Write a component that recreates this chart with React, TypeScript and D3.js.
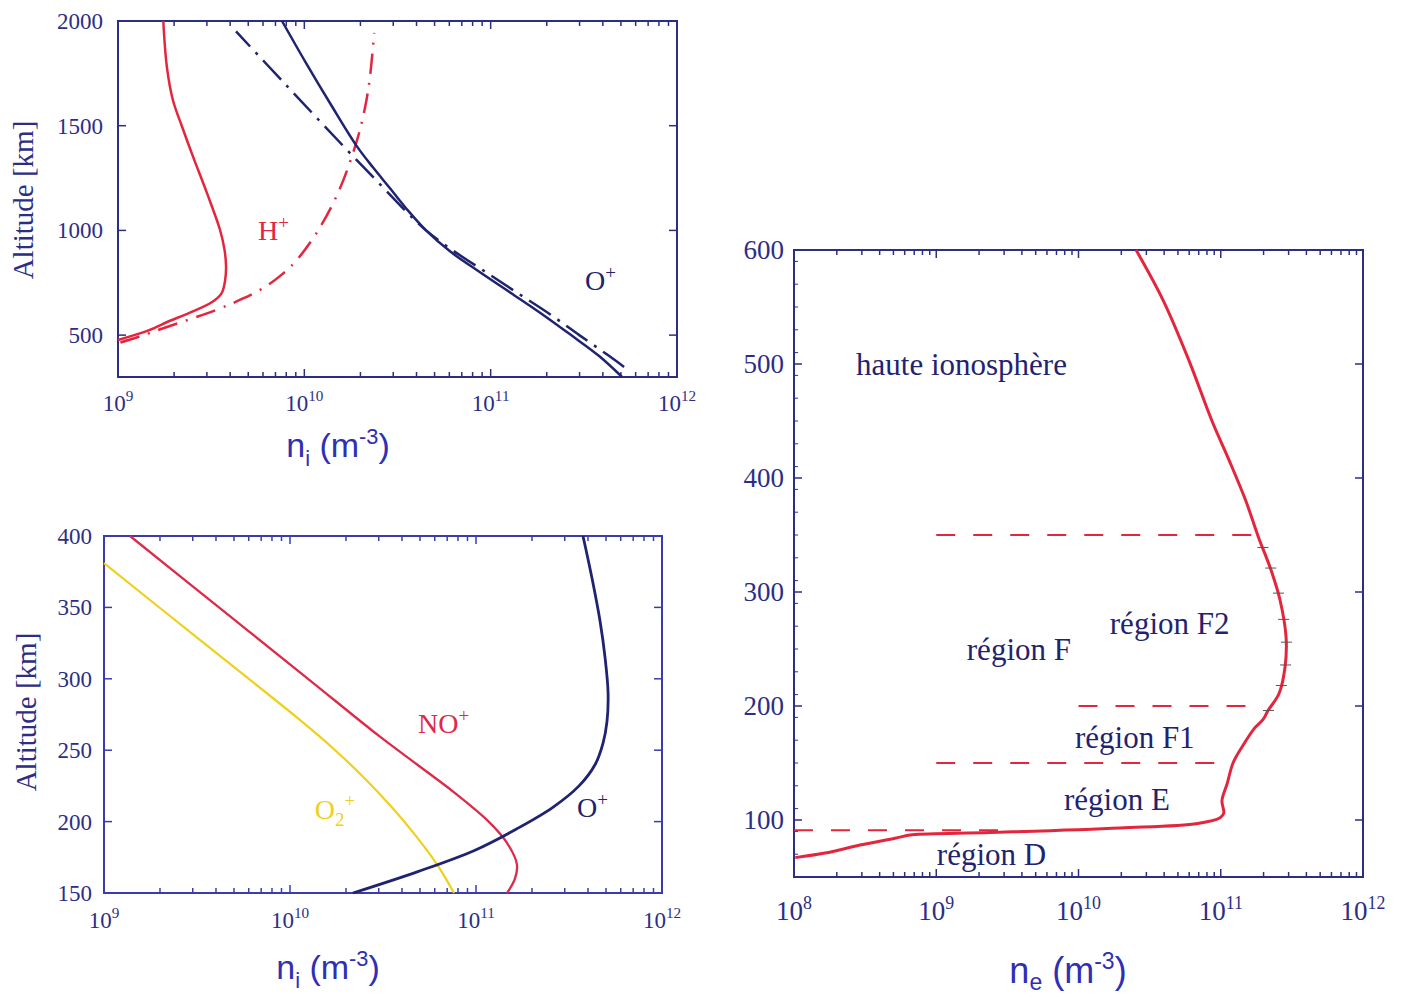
import React from "react";
import * as d3 from "d3";

// ---------------- colours ----------------
const AXIS = "#2c2e86";
const NAVY = "#1f2370";
const RED = "#e3263d";
const YELLOW = "#efd01c";
const BLUE_LABEL = "#2f2fb4";
const SERIF = "'Liberation Serif', 'Times New Roman', serif";
const SANS = "'Liberation Sans', Arial, sans-serif";

// ---------------- Panel A : 300–2000 km ----------------
const aHsolidAlt = [477, 524, 565, 605, 658, 701, 763, 830, 907, 1002, 1179, 1351, 1494, 1623, 1780, 2000];
const aHsolidN = [1.0e9, 1.47e9, 1.86e9, 2.4e9, 3.2e9, 3.6e9, 3.76e9, 3.8e9, 3.73e9, 3.53e9, 3.0e9, 2.53e9, 2.21e9, 1.97e9, 1.83e9, 1.75e9];
const aHdashAlt = [465, 491, 539, 620, 675, 730, 790, 860, 1002, 1193, 1432, 1589, 1733, 1943];
const aHdashN = [1.03e9, 1.28e9, 1.83e9, 3.36e9, 4.69e9, 6.15e9, 7.59e9, 9.14e9, 1.19e10, 1.54e10, 1.92e10, 2.12e10, 2.25e10, 2.37e10];
const aOsolidAlt = [300, 400, 500, 600, 700, 800, 900, 1000, 1100, 1200, 1300, 1400, 1600, 1800, 2000];
const aOsolidN = [5.07e11, 3.82e11, 2.7e11, 1.89e11, 1.29e11, 8.77e10, 6.05e10, 4.5e10, 3.56e10, 2.89e10, 2.34e10, 1.92e10, 1.39e10, 1.02e10, 7.59e9];
const aOdashAlt = [348, 400, 500, 600, 700, 800, 900, 1000, 1100, 1200, 1400, 1700, 1950];
const aOdashN = [5.2e11, 4.33e11, 2.99e11, 2.08e11, 1.4e11, 9.45e10, 6.37e10, 4.5e10, 3.43e10, 2.68e10, 1.63e10, 7.87e9, 4.3e9];
const aYTicks = [500, 1000, 1500, 2000];
const aLabelText = ["H", "O"];
const aLabelN = [5.64e9, 3.21e11];
const aLabelAlt = [954, 715];
const aLabelColor = [RED, NAVY];

// ---------------- Panel B : 150–400 km ----------------
const bNOAlt = [150, 160, 170, 185, 200, 220, 240, 260, 300, 350, 400];
const bNON = [1.47e11, 1.62e11, 1.66e11, 1.47e11, 1.17e11, 7.71e10, 4.82e10, 3.01e10, 1.25e10, 4.15e9, 1.38e9];
const bO2Alt = [150, 170, 190, 210, 230, 250, 270, 330, 381];
const bO2N = [7.62e10, 6.17e10, 4.75e10, 3.53e10, 2.53e10, 1.75e10, 1.16e10, 3.08e9, 1.0e9];
const bOAlt = [150, 165, 180, 195, 210, 225, 240, 255, 270, 290, 315, 340, 370, 400];
const bON = [2.18e10, 4.87e10, 9.88e10, 1.66e11, 2.59e11, 3.58e11, 4.37e11, 4.82e11, 5.06e11, 5.13e11, 4.94e11, 4.65e11, 4.21e11, 3.76e11];
const bYTicks = [150, 200, 250, 300, 350, 400];

// ---------------- Panel C : electron density 50–600 km ----------------
const cAlt = [67, 71, 78, 84, 87, 89, 93, 97, 102, 106, 117, 132, 150, 164, 181, 188, 196, 211, 234, 260, 293, 319, 349, 380, 415, 450, 503, 556, 600];
const cN = [1.02e8, 1.65e8, 2.91e8, 5.13e8, 6.76e8, 2.39e9, 1.96e10, 6.9e10, 9.9e10, 1.05e11, 1.02e11, 1.11e11, 1.22e11, 1.41e11, 1.74e11, 1.98e11, 2.15e11, 2.57e11, 2.83e11, 2.88e11, 2.61e11, 2.26e11, 1.83e11, 1.5e11, 1.15e11, 8.68e10, 5.98e10, 3.93e10, 2.54e10];
const cBarAlt = [196, 218, 236, 256, 276, 299, 321, 339];
const cBoundAlt = [350, 200, 150, 91];
const cBoundFrom = [1e9, 1e10, 1e9, 1e8];
const cBoundTo = [1.8e11, 1.75e11, 1.02e11, 2.8e9];
const cYTicks = [100, 200, 300, 400, 500, 600];
const cLabelText = ["haute ionosphère", "région F2", "région F", "région F1", "région E", "région D"];
const cLabelN = [2.73e8, 1.66e10, 1.64e9, 9.44e9, 7.9e9, 1.01e9];
const cLabelAlt = [490, 263, 240, 163, 109, 60.5];

type Frame = { left: number; right: number; top: number; bottom: number };

function isDecade(v: number) {
  const l = Math.log10(v);
  return Math.abs(l - Math.round(l)) < 1e-6;
}

function Panel(props: {
  frame: Frame;
  xDomain: [number, number];
  yDomain: [number, number];
  yTicks: number[];
  yMinorStep?: number;
  fs: number;
  xLabelOff: number;
  yLabelGap: number;
  frameColor: string;
  render: (x: d3.ScaleLogarithmic<number, number>, y: d3.ScaleLinear<number, number>) => React.ReactNode;
}) {
  const { frame, xDomain, yDomain, yTicks, fs } = props;
  const x = d3.scaleLog().domain(xDomain).range([frame.left, frame.right]);
  const y = d3.scaleLinear().domain(yDomain).range([frame.bottom, frame.top]);
  const xt = x.ticks();
  const minorY: number[] = [];
  if (props.yMinorStep) {
    for (let v = yDomain[0]; v <= yDomain[1]; v += props.yMinorStep) {
      if (!yTicks.includes(v)) minorY.push(v);
    }
  }
  const col = props.frameColor;
  return (
    <g>
      <rect x={frame.left} y={frame.top} width={frame.right - frame.left} height={frame.bottom - frame.top} fill="none" stroke={col} strokeWidth={2} />
      {xt.map((v, i) => {
        const len = isDecade(v) ? 8 : 5;
        return (
          <g key={"xt" + i}>
            <line x1={x(v)} x2={x(v)} y1={frame.bottom} y2={frame.bottom - len} stroke={col} strokeWidth={1.5} />
            <line x1={x(v)} x2={x(v)} y1={frame.top} y2={frame.top + len} stroke={col} strokeWidth={1.5} />
          </g>
        );
      })}
      {xt.filter(isDecade).map((v, i) => (
        <text key={"xl" + i} x={x(v)} y={frame.bottom + props.xLabelOff} textAnchor="middle" fontFamily={SERIF} fontSize={fs} fill={AXIS}>
          10<tspan fontSize={fs * 0.66} dy={-fs * 0.42}>{Math.round(Math.log10(v))}</tspan>
        </text>
      ))}
      {yTicks.map((v, i) => (
        <g key={"yt" + i}>
          <line x1={frame.left} x2={frame.left + 8} y1={y(v)} y2={y(v)} stroke={col} strokeWidth={1.5} />
          <line x1={frame.right} x2={frame.right - 8} y1={y(v)} y2={y(v)} stroke={col} strokeWidth={1.5} />
          <text x={frame.left - props.yLabelGap} y={y(v)} dy="0.35em" textAnchor="end" fontFamily={SERIF} fontSize={fs} fill={AXIS}>
            {v}
          </text>
        </g>
      ))}
      {minorY.map((v, i) => (
        <line key={"ym" + i} x1={frame.left} x2={frame.left + 4} y1={y(v)} y2={y(v)} stroke={col} strokeWidth={1} />
      ))}
      {props.render(x, y)}
    </g>
  );
}

function curve(x: d3.ScaleLogarithmic<number, number>, y: d3.ScaleLinear<number, number>, alts: number[], ns: number[]) {
  const pts: [number, number][] = alts.map((a, i) => [x(ns[i]), y(a)]);
  return d3.line().curve(d3.curveCatmullRom.alpha(0.5))(pts) || "";
}

function AxisTitleX({ cx, y, fs }: { cx: number; y: number; fs: number }) {
  const sf = fs * 0.64;
  return (
    <text x={cx} y={y} textAnchor="middle" fontFamily={SANS} fontSize={fs} fill={BLUE_LABEL}>
      n<tspan fontSize={sf} dy={fs * 0.25}>i</tspan>
      <tspan dy={-fs * 0.25}>{" (m"}</tspan>
      <tspan fontSize={sf} dy={-fs * 0.38}>-3</tspan>
      <tspan dy={fs * 0.38}>)</tspan>
    </text>
  );
}

export default function App() {
  const fA: Frame = { left: 118, right: 677, top: 21, bottom: 377 };
  const fB: Frame = { left: 104, right: 662, top: 536, bottom: 893 };
  const fC: Frame = { left: 794, right: 1363, top: 250, bottom: 877 };

  return (
    <svg width={1404} height={999} style={{ position: "absolute", left: 0, top: 0, background: "#fff" }}>
      <rect x={0} y={0} width={1404} height={999} fill="#ffffff" />

      {/* Panel A */}
      <Panel
        frame={fA}
        xDomain={[1e9, 1e12]}
        yDomain={[300, 2000]}
        yTicks={aYTicks}
        fs={23}
        xLabelOff={34}
        yLabelGap={15}
        frameColor={AXIS}
        render={(x, y) => (
          <g fill="none">
            <path d={curve(x, y, aHdashAlt, aHdashN)} stroke={RED} strokeWidth={2.5} strokeDasharray="20 9 2 9" />
            <path d={curve(x, y, aHsolidAlt, aHsolidN)} stroke={RED} strokeWidth={2.5} />
            <path d={curve(x, y, aOdashAlt, aOdashN)} stroke={NAVY} strokeWidth={2.5} strokeDasharray="26 8 3 8" />
            <path d={curve(x, y, aOsolidAlt, aOsolidN)} stroke={NAVY} strokeWidth={2.5} />
            {aLabelText.map((t, i) => (
              <text key={i} x={x(aLabelN[i])} y={y(aLabelAlt[i])} fontFamily={SERIF} fontSize={28} fill={aLabelColor[i]} stroke="none">
                {t}
                <tspan fontSize={19} dy={-11}>+</tspan>
              </text>
            ))}
          </g>
        )}
      />
      <text transform="translate(33,200) rotate(-90)" textAnchor="middle" fontFamily={SERIF} fontSize={29} fill={AXIS}>
        Altitude [km]
      </text>
      <AxisTitleX cx={338} y={457} fs={34} />

      {/* Panel B */}
      <Panel
        frame={fB}
        xDomain={[1e9, 1e12]}
        yDomain={[150, 400]}
        yTicks={bYTicks}
        fs={23}
        xLabelOff={35}
        yLabelGap={12}
        frameColor="#3a3cae"
        render={(x, y) => (
          <g fill="none">
            <path d={curve(x, y, bO2Alt, bO2N)} stroke={YELLOW} strokeWidth={2.2} />
            <path d={curve(x, y, bNOAlt, bNON)} stroke="#dc2a48" strokeWidth={2.3} />
            <path d={curve(x, y, bOAlt, bON)} stroke={NAVY} strokeWidth={2.8} />
            <text x={x(4.88e10)} y={y(262)} fontFamily={SERIF} fontSize={28} fill="#dc2a48" stroke="none">
              NO<tspan fontSize={19} dy={-11}>+</tspan>
            </text>
            <text x={x(1.36e10)} y={y(202)} fontFamily={SERIF} fontSize={28} fill={YELLOW} stroke="none">
              O<tspan fontSize={19} dy={7}>2</tspan>
              <tspan fontSize={19} dy={-19}>+</tspan>
            </text>
            <text x={x(3.49e11)} y={y(203)} fontFamily={SERIF} fontSize={28} fill={NAVY} stroke="none">
              O<tspan fontSize={19} dy={-11}>+</tspan>
            </text>
          </g>
        )}
      />
      <text transform="translate(36,712) rotate(-90)" textAnchor="middle" fontFamily={SERIF} fontSize={29} fill={AXIS}>
        Altitude [km]
      </text>
      <AxisTitleX cx={328} y={979} fs={34} />

      {/* Panel C */}
      <Panel
        frame={fC}
        xDomain={[1e8, 1e12]}
        yDomain={[50, 600]}
        yTicks={cYTicks}
        yMinorStep={20}
        fs={27}
        xLabelOff={43}
        yLabelGap={10}
        frameColor={AXIS}
        render={(x, y) => {
          const altToLog = d3.scaleLinear().domain(cAlt).range(cN.map((v) => Math.log10(v)));
          return (
            <g fill="none">
              {cBoundAlt.map((a, i) => (
                <line key={"b" + i} x1={x(cBoundFrom[i])} x2={x(cBoundTo[i])} y1={y(a)} y2={y(a)} stroke={RED} strokeWidth={1.8} strokeDasharray="19 18" />
              ))}
              <path d={curve(x, y, cAlt, cN)} stroke={RED} strokeWidth={3} />
              {cBarAlt.map((a, i) => {
                const cx = x(Math.pow(10, altToLog(a)));
                return <line key={"e" + i} x1={cx - 5} x2={cx + 6} y1={y(a)} y2={y(a)} stroke="#555" strokeWidth={1} />;
              })}
              {cLabelText.map((t, i) => (
                <text key={"l" + i} x={x(cLabelN[i])} y={y(cLabelAlt[i])} fontFamily={SERIF} fontSize={31} fill={NAVY} stroke="none">
                  {t}
                </text>
              ))}
            </g>
          );
        }}
      />
      <text x={1068} y={983} textAnchor="middle" fontFamily={SANS} fontSize={36} fill={BLUE_LABEL}>
        n<tspan fontSize={23} dy={7}>e</tspan>
        <tspan dy={-7}>{" (m"}</tspan>
        <tspan fontSize={23} dy={-14}>-3</tspan>
        <tspan dy={14}>)</tspan>
      </text>
    </svg>
  );
}
